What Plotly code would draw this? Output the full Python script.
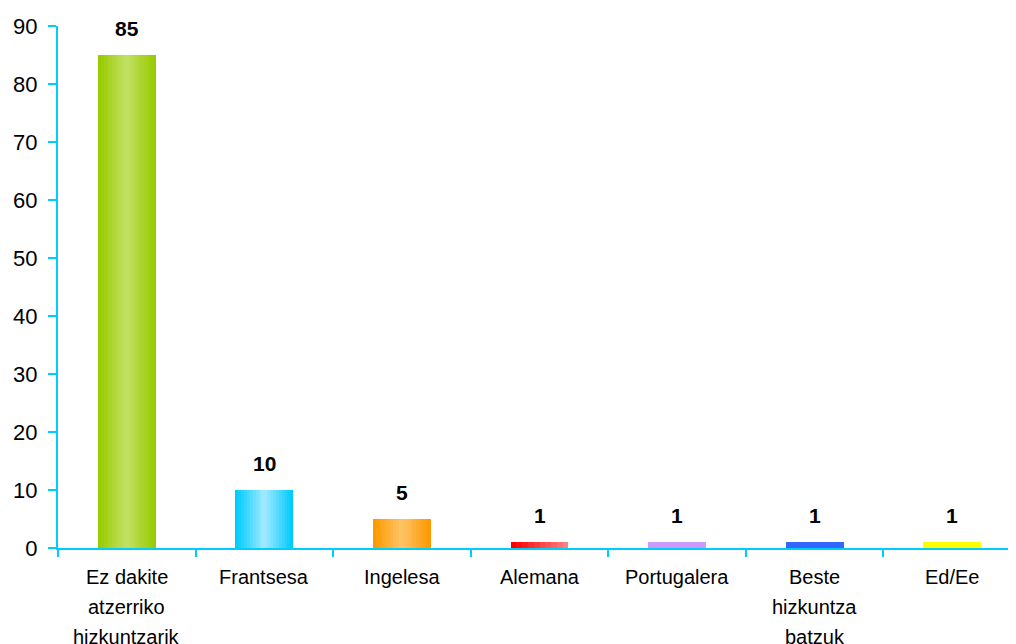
import plotly.graph_objects as go

# ---- data ----
categories = ["Ez dakite<br>atzerriko<br>hizkuntzarik", "Frantsesa", "Ingelesa", "Alemana",
              "Portugalera", "Beste<br>hizkuntza<br>batzuk", "Ed/Ee"]
values = [85, 10, 5, 1, 1, 1, 1]
y_ticks = [0, 10, 20, 30, 40, 50, 60, 70, 80, 90]

# ---- style ----
edge_colors = ["#99CC00", "#00CCFF", "#FF9900", "#FF0000", "#CC99FF", "#3366FF", "#FFFF00"]
center_colors = ["#BFDF60", "#9CE8FF", "#FFC262", "#FF8080", "#CC99FF", "#3366FF", "#FFFF00"]
gradient_kind = ["sym", "sym", "sym", "lr", "sym", "sym", "sym"]
axis_color = "#00CCFF"
bar_w = 0.42
n_layers = 10
font_family = "Liberation Sans, Arial, sans-serif"
label_line_gap = 30


def hex2rgb(h):
    h = h.lstrip("#")
    return tuple(int(h[i:i + 2], 16) for i in (0, 2, 4))


def mix(a, b, t):
    ra, rb = hex2rgb(a), hex2rgb(b)
    return "rgb(%d,%d,%d)" % tuple(round(ra[i] + (rb[i] - ra[i]) * t) for i in range(3))


fig = go.Figure()
for k in range(n_layers):
    t = k / (n_layers - 1)
    widths, offsets, colors = [], [], []
    for i in range(len(categories)):
        if gradient_kind[i] == "sym":
            f = k / (2 * n_layers)
            widths.append(bar_w * (1 - 2 * f))
            offsets.append(-bar_w / 2 + bar_w * f)
        else:
            f = k / n_layers
            widths.append(bar_w * (1 - f))
            offsets.append(-bar_w / 2 + bar_w * f)
        colors.append(mix(edge_colors[i], center_colors[i], t))
    fig.add_trace(go.Bar(
        x=categories, y=values, width=widths, offset=offsets,
        marker=dict(color=colors, line=dict(width=0)),
        showlegend=False, hoverinfo="skip" if k else "x+y",
    ))

# value labels
for c, v in zip(categories, values):
    fig.add_annotation(x=c, y=v, text=str(v), showarrow=False, yshift=27,
                       yanchor="middle",
                       font=dict(family=font_family, size=21, color="#000000",
                                 weight="bold"))

# category labels, one annotation per line for the wider line spacing
for c in categories:
    for j, line in enumerate(c.split("<br>")):
        fig.add_annotation(x=c, y=0, text=line, showarrow=False,
                           yshift=-29 - label_line_gap * j, yanchor="middle",
                           font=dict(family=font_family, size=20, color="#000000"))

fig.update_layout(
    width=1016, height=644,
    margin=dict(l=50, r=3, t=18, b=104),
    paper_bgcolor="white", plot_bgcolor="white",
    barmode="overlay", bargap=0,
    font=dict(family=font_family, size=20, color="#000000"),
)
fig.update_xaxes(
    type="category", range=[-0.5, 6.5], automargin=False,
    showline=True, linecolor=axis_color, linewidth=2,
    ticks="outside", tickson="boundaries", ticklen=7, tickcolor=axis_color, tickwidth=2,
    showgrid=False, showticklabels=False,
)
fig.update_yaxes(
    range=[0, 90], tickvals=y_ticks, automargin=False,
    showline=True, linecolor=axis_color, linewidth=2,
    ticks="outside", ticklen=8, tickcolor=axis_color, tickwidth=2,
    showgrid=False, zeroline=False, ticklabelstandoff=6,
    tickfont=dict(family=font_family, size=22, color="#000000"),
)

fig.write_html("out.html")
